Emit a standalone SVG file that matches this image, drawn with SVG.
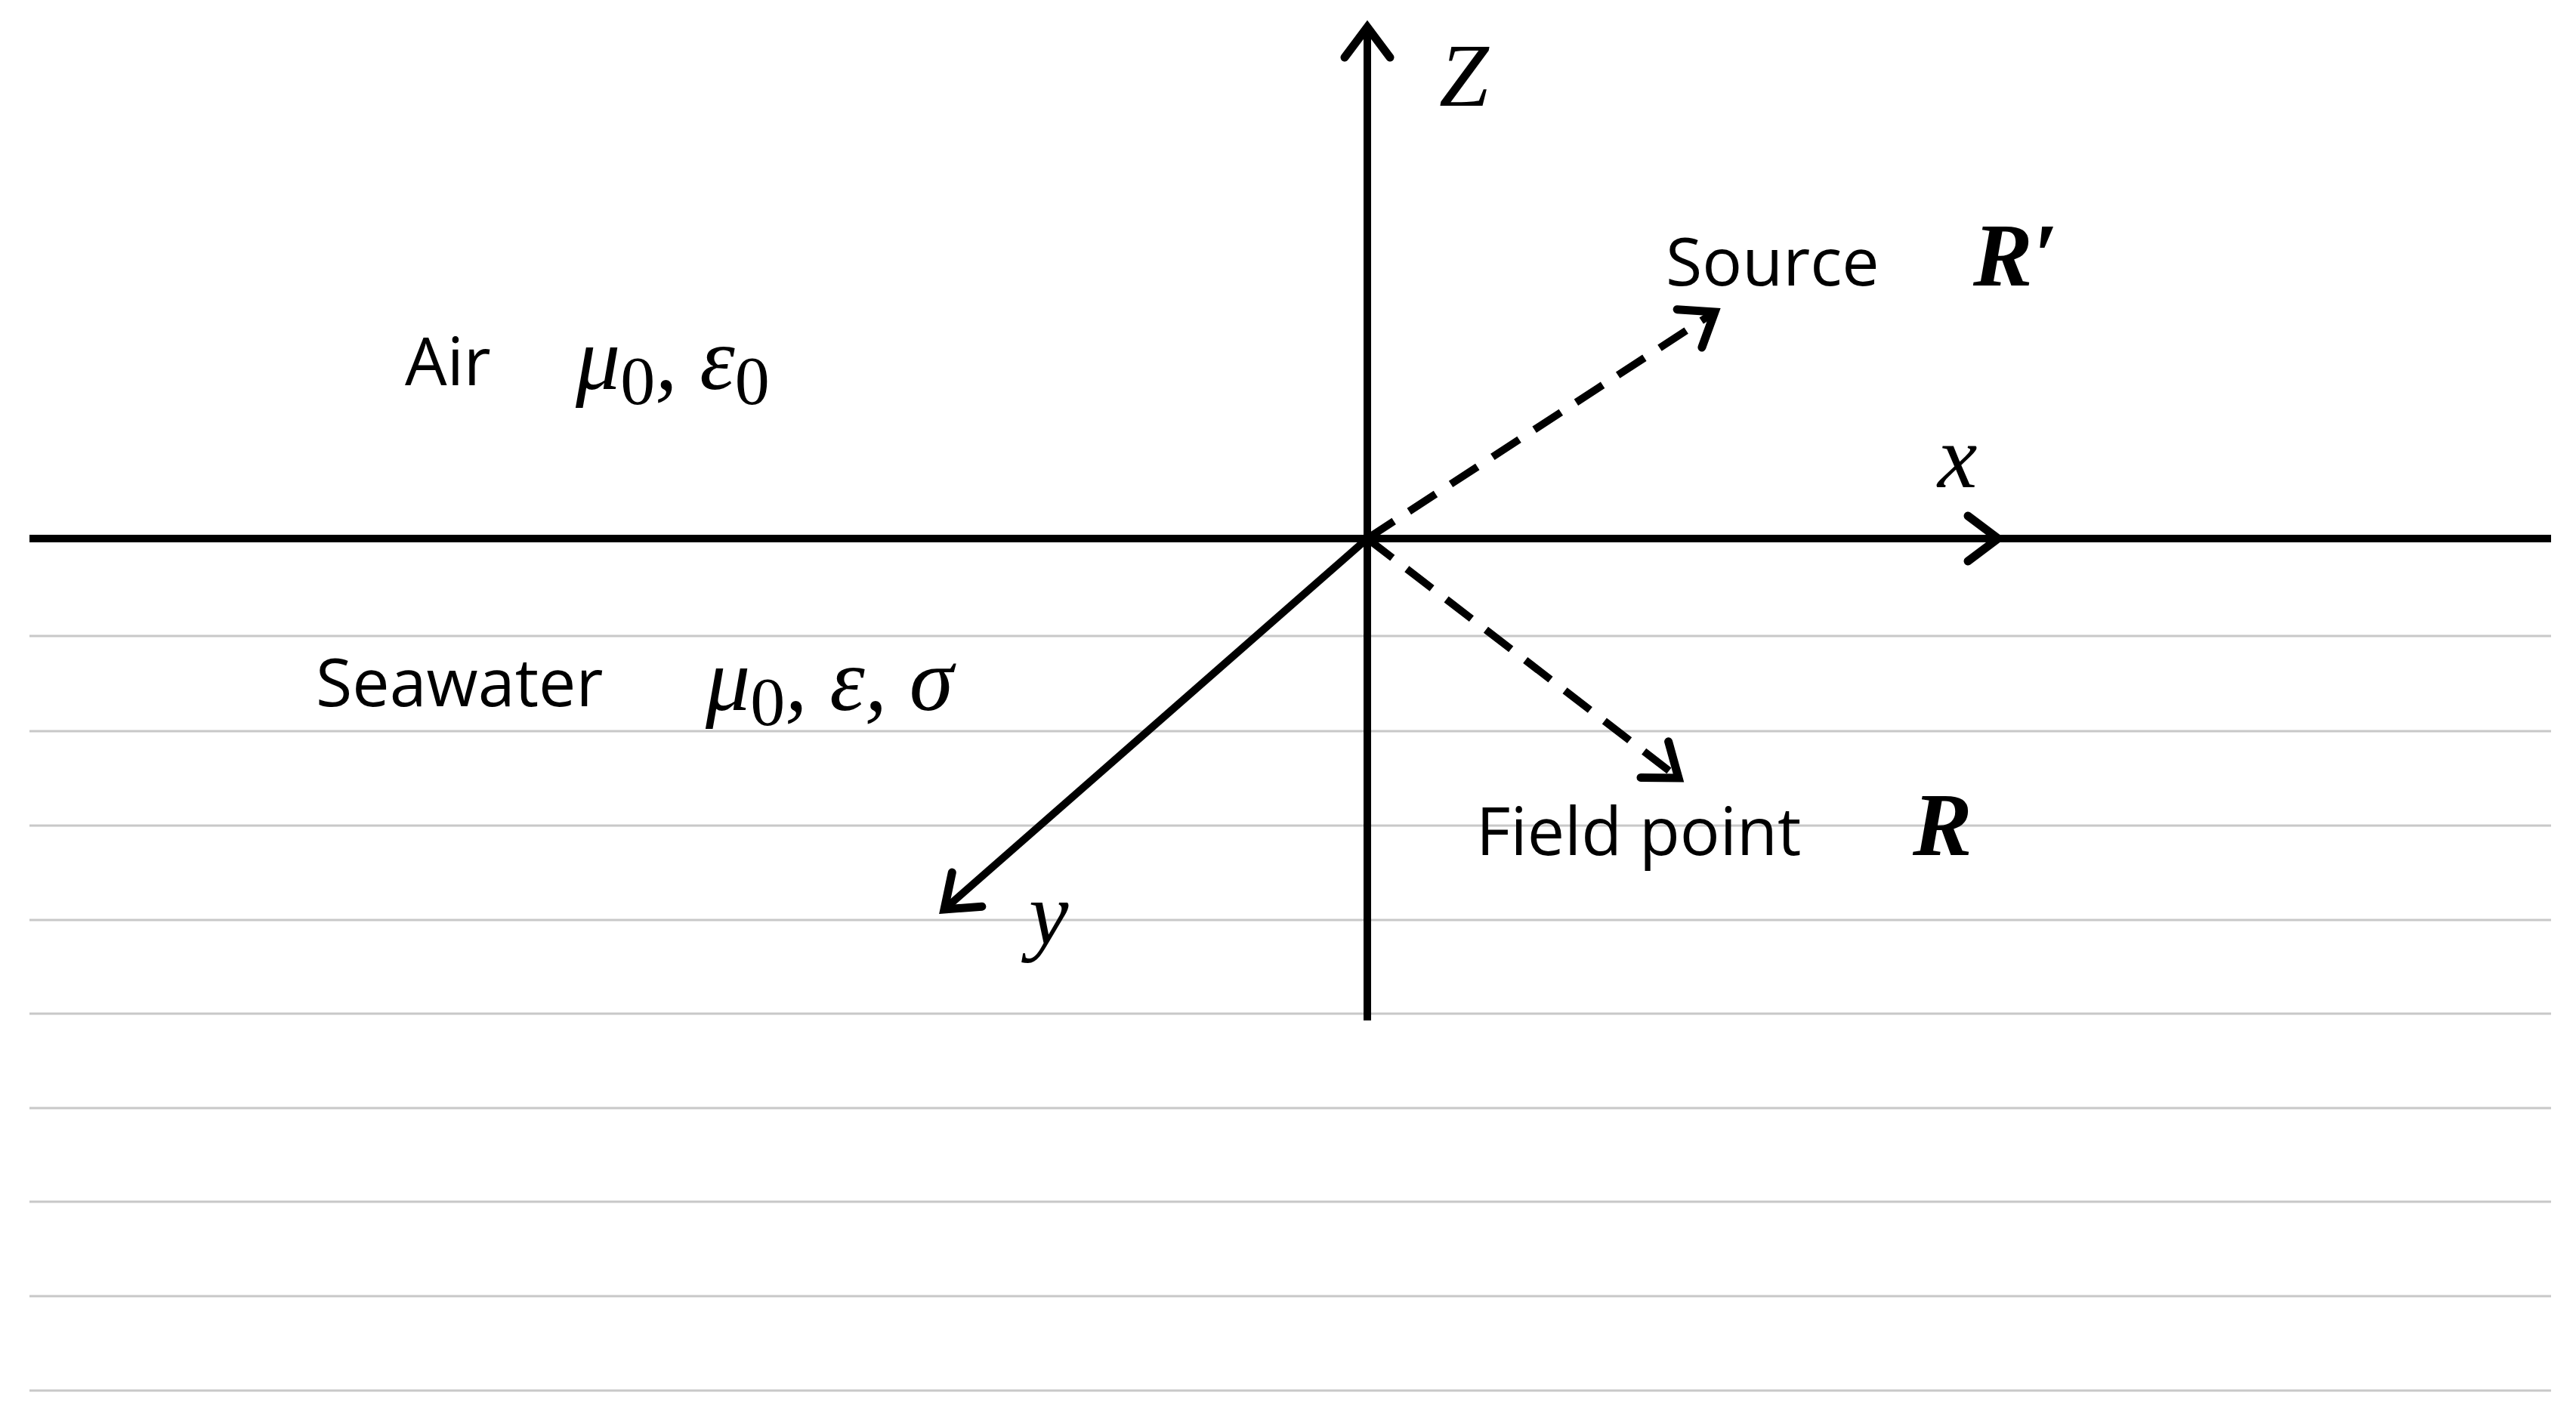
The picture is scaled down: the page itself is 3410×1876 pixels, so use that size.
<svg xmlns="http://www.w3.org/2000/svg" width="3410" height="1876" viewBox="0 0 3410 1876">
<defs>
<marker id="ah" viewBox="0 0 20 20" refX="0" refY="0" markerWidth="20" markerHeight="20" markerUnits="userSpaceOnUse" orient="auto" overflow="visible">
<path d="M-40,-30 L0,0 L-40,30" fill="none" stroke="#000" stroke-width="11" stroke-linecap="round" stroke-linejoin="miter"/>
</marker>
<style>
.g{stroke:#c8c8c8;stroke-width:3}
.ax{stroke:#000;stroke-width:10;fill:none}
.d{stroke:#000;stroke-width:10;fill:none;stroke-dasharray:42 24}
.t{font-family:"Open Sans","DejaVu Sans",sans-serif;font-size:88px;fill:#000}
.m{font-family:"Liberation Serif",serif;font-style:italic;font-size:118px;fill:#000}
.b{font-family:"Liberation Serif",serif;font-style:italic;font-weight:bold;font-size:118px;fill:#000}
</style>
</defs>
<rect width="3410" height="1876" fill="#fff"/>
<g id="water">
<line class="g" x1="39" y1="842" x2="3377" y2="842"/>
<line class="g" x1="39" y1="968" x2="3377" y2="968"/>
<line class="g" x1="39" y1="1093" x2="3377" y2="1093"/>
<line class="g" x1="39" y1="1218" x2="3377" y2="1218"/>
<line class="g" x1="39" y1="1342" x2="3377" y2="1342"/>
<line class="g" x1="39" y1="1467" x2="3377" y2="1467"/>
<line class="g" x1="39" y1="1591" x2="3377" y2="1591"/>
<line class="g" x1="39" y1="1716" x2="3377" y2="1716"/>
<line class="g" x1="39" y1="1841" x2="3377" y2="1841"/>
</g>
<g id="connectors">
<line class="ax" x1="39" y1="713" x2="3377" y2="713"/>
<line class="ax" x1="1810" y1="713" x2="2645" y2="713" marker-end="url(#ah)"/>
<line class="ax" x1="1810" y1="1351" x2="1810" y2="36" marker-end="url(#ah)"/>
<line class="ax" x1="1810" y1="713" x2="1250" y2="1204" marker-end="url(#ah)"/>
<line class="d" x1="1810" y1="713" x2="2270" y2="413" marker-end="url(#ah)"/>
<line class="d" x1="1810" y1="713" x2="2222" y2="1030" marker-end="url(#ah)"/>
</g>
<g id="labels">
<text class="m" x="1905" y="140">Z</text>
<text class="t" x="2205" y="378">Source</text>
<text class="b" x="2612" y="378">R′</text>
<text class="m" x="2565" y="645" font-size="150">x</text>
<text class="t" x="536" y="510">Air</text>
<text class="m" x="762" y="515">μ<tspan font-style="normal" font-size="92" dy="20">0</tspan><tspan dy="-20">, ε</tspan><tspan font-style="normal" font-size="92" dy="20">0</tspan></text>
<text class="t" x="418" y="935">Seawater</text>
<text class="m" x="934" y="940">μ<tspan font-style="normal" font-size="92" dy="20">0</tspan><tspan dy="-20">, ε, σ</tspan></text>
<text class="t" x="1954" y="1132">Field point</text>
<text class="b" x="2532" y="1132">R</text>
<text class="m" x="1362" y="1250" font-size="150">y</text>
</g>
</svg>
